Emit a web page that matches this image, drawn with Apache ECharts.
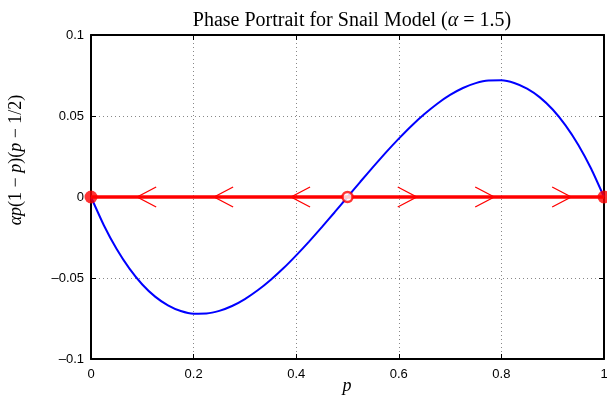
<!DOCTYPE html>
<html>
<head>
<meta charset="utf-8">
<script src="https://cdn.jsdelivr.net/npm/echarts@6/dist/echarts.min.js"></script>
<style>
  html, body { margin: 0; padding: 0; background: #fff; }
  #chart { width: 607px; height: 400px; }
</style>
</head>
<body>
<div id="chart"></div>
<script>
// p values and the curve
const pValues = [0, 0.025, 0.05, 0.075, 0.1, 0.125, 0.15, 0.175, 0.2, 0.225, 0.25,
  0.275, 0.3, 0.325, 0.35, 0.375, 0.4, 0.425, 0.45, 0.475, 0.5,
  0.525, 0.55, 0.575, 0.6, 0.625, 0.65, 0.675, 0.7, 0.725, 0.75,
  0.775, 0.8, 0.825, 0.85, 0.875, 0.9, 0.925, 0.95, 0.975, 1]
const curveValues = [0, -0.0174, -0.0321, -0.0442, -0.054, -0.0615, -0.0669, -0.0704, -0.072, -0.0719, -0.0703,
  -0.0673, -0.063, -0.0576, -0.0512, -0.044, -0.036, -0.0275, -0.0186, -0.0094, 0,
  0.0094, 0.0186, 0.0275, 0.036, 0.044, 0.0512, 0.0576, 0.063, 0.0673, 0.0703,
  0.0719, 0.072, 0.0704, 0.0669, 0.0615, 0.054, 0.0442, 0.0321, 0.0174, 0]

// phase line, equilibria and flow arrows
const phaseLine = [[0, 0], [1, 0]]
const stablePoints = [[0, 0], [1, 0]]
const unstablePoints = [[0.5, 0]]
const arrowTips = [0.09, 0.24, 0.39, 0.635, 0.786, 0.936]
const arrowDirs = [-1, -1, -1, 1, 1, 1]

const xTicks = { min: 0, max: 1, interval: 0.2 }
const yTicks = { min: -0.1, max: 0.1, interval: 0.05 }

const chart = echarts.init(document.getElementById('chart'))

const labelFont = { fontFamily: 'Liberation Sans, Arial, sans-serif', fontSize: 13, color: '#000' }
const serif = 'Liberation Serif, DejaVu Serif, serif'

const axisLine = { show: true, onZero: false, lineStyle: { color: '#000', width: 2 } }
const tick = { show: true, inside: true, length: 5, lineStyle: { color: '#000', width: 1 } }
const grid = { show: true, lineStyle: { color: '#888', type: [1, 3], width: 1 } }

const option = {
  animation: false,
  title: {
    text: 'Phase Portrait for Snail Model ({i|α} = 1.5)',
    left: 347,
    textAlign: 'center',
    top: 6,
    textStyle: {
      fontFamily: serif, fontSize: 20, fontWeight: 'normal', color: '#000',
      rich: { i: { fontFamily: serif, fontSize: 20, fontStyle: 'italic', color: '#000' } }
    }
  },
  grid: { left: 91, right: 3, top: 35, bottom: 41, outerBoundsMode: 'none' },
  // axis titles
  graphic: [{
    type: 'text',
    x: 16,
    y: 160,
    rotation: Math.PI / 2,
    style: {
      text: '{i|αp}(1 − {i|p})({i|p} − 1/2)',
      align: 'center',
      verticalAlign: 'middle',
      font: '18px ' + serif,
      fill: '#000',
      rich: { i: { fontFamily: serif, fontSize: 18, fontStyle: 'italic', fill: '#000', color: '#000' } }
    }
  }, {
    type: 'text',
    x: 347,
    y: 386,
    style: {
      text: 'p',
      align: 'center',
      verticalAlign: 'middle',
      font: 'italic 18px ' + serif,
      fill: '#000'
    }
  }],
  xAxis: [{
    type: 'value', ...xTicks,
    axisLine, axisTick: tick, splitLine: grid,
    axisLabel: { ...labelFont, margin: 9 }
  }, {
    type: 'value', position: 'top', ...xTicks,
    axisLine, axisTick: tick, splitLine: { show: false }, axisLabel: { show: false }
  }],
  yAxis: [{
    type: 'value', ...yTicks,
    axisLine, axisTick: tick, splitLine: grid,
    axisLabel: { ...labelFont, margin: 7, formatter: v => String(v).replace('-', '–') }
  }, {
    type: 'value', position: 'right', ...yTicks,
    axisLine, axisTick: tick, splitLine: { show: false }, axisLabel: { show: false }
  }],
  series: [
    {
      type: 'line',
      data: pValues.map((p, i) => [p, curveValues[i]]),
      smooth: 0.2,
      showSymbol: false,
      lineStyle: { color: '#0000ff', width: 2 },
      z: 2
    },
    {
      type: 'line',
      data: phaseLine,
      showSymbol: false,
      lineStyle: { color: '#ff0000', width: 3.5 },
      z: 3
    },
    {
      type: 'custom',
      data: arrowTips.map((p, i) => [p, arrowDirs[i]]),
      renderItem: (params, api) => {
        const pt = api.coord([api.value(0), 0])
        const back = pt[0] - api.value(1) * 19
        return {
          type: 'polyline',
          shape: { points: [[back, pt[1] - 10], [pt[0], pt[1]], [back, pt[1] + 10]] },
          style: { stroke: '#ff0000', lineWidth: 1.3, fill: null }
        }
      },
      z: 4
    },
    {
      type: 'scatter',
      data: stablePoints,
      symbolSize: 13,
      itemStyle: { color: '#ff0000' },
      clip: false,
      z: 5
    },
    {
      type: 'scatter',
      data: unstablePoints,
      symbolSize: 10,
      itemStyle: { color: '#fff', borderColor: '#ff0000', borderWidth: 2.5 },
      z: 5
    }
  ]
}

chart.setOption(option)
</script>
</body>
</html>
